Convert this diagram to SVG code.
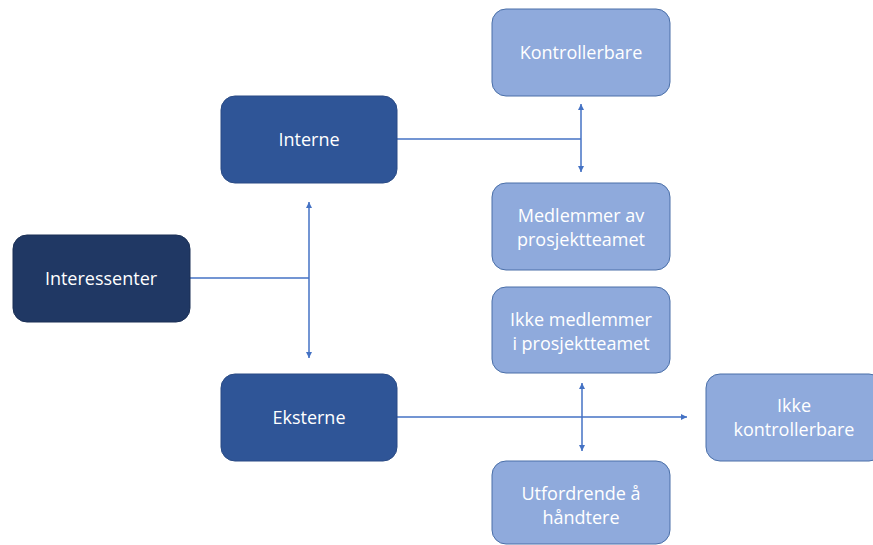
<svg xmlns="http://www.w3.org/2000/svg" width="873" height="545" viewBox="0 0 873 545">
<defs>
<style>
.n rect{stroke-width:1}
.d1 rect{fill:#203864;stroke:#1a2f55}
.d2 rect{fill:#2f5597;stroke:#2a4b85}
.l rect{fill:#8faadc;stroke:#4a6fa8}
text{font-family:"Open Sans","Liberation Sans",sans-serif;font-size:18px;fill:#ffffff;text-anchor:middle;dominant-baseline:central}
.c line{stroke:#4472c4;stroke-width:1.5;fill:none}
</style>
<marker id="ah" viewBox="0 0 10 10" refX="10" refY="5" markerWidth="6" markerHeight="6" markerUnits="userSpaceOnUse" orient="auto-start-reverse">
<path d="M0,0 L10,5 L0,10 z" fill="#4472c4"/>
</marker>
</defs>
<rect width="873" height="545" fill="#ffffff"/>
<g class="c">
<line x1="190" y1="278" x2="309" y2="278"/>
<line x1="309" y1="202" x2="309" y2="358" marker-start="url(#ah)" marker-end="url(#ah)"/>
<line x1="397" y1="139" x2="581" y2="139"/>
<line x1="581" y1="104" x2="581" y2="172" marker-start="url(#ah)" marker-end="url(#ah)"/>
<line x1="397" y1="417" x2="687" y2="417" marker-end="url(#ah)"/>
<line x1="582" y1="383" x2="582" y2="451" marker-start="url(#ah)" marker-end="url(#ah)"/>
</g>
<g id="interessenter" class="n d1"><rect x="13" y="235" width="177" height="87" rx="14"/><text x="101" y="278">Interessenter</text></g>
<g id="interne" class="n d2"><rect x="221" y="96" width="176" height="87" rx="14"/><text x="309" y="139">Interne</text></g>
<g id="eksterne" class="n d2"><rect x="221" y="374" width="176" height="87" rx="14"/><text x="309" y="417">Eksterne</text></g>
<g id="kontrollerbare" class="n l"><rect x="492" y="9" width="178" height="87" rx="14"/><text x="581" y="52">Kontrollerbare</text></g>
<g id="medlemmer" class="n l"><rect x="492" y="183" width="178" height="87" rx="14"/><text x="581" y="215">Medlemmer av</text><text x="581" y="239">prosjektteamet</text></g>
<g id="ikke-medlemmer" class="n l"><rect x="492" y="287" width="178" height="86" rx="14"/><text x="581" y="319">Ikke medlemmer</text><text x="581" y="343">i prosjektteamet</text></g>
<g id="utfordrende" class="n l"><rect x="492" y="461" width="178" height="83" rx="14"/><text x="581" y="493">Utfordrende å</text><text x="581" y="517">håndtere</text></g>
<g id="ikke-kontrollerbare" class="n l"><rect x="706" y="374" width="177" height="87" rx="14"/><text x="794" y="405">Ikke</text><text x="794" y="429">kontrollerbare</text></g>
</svg>
